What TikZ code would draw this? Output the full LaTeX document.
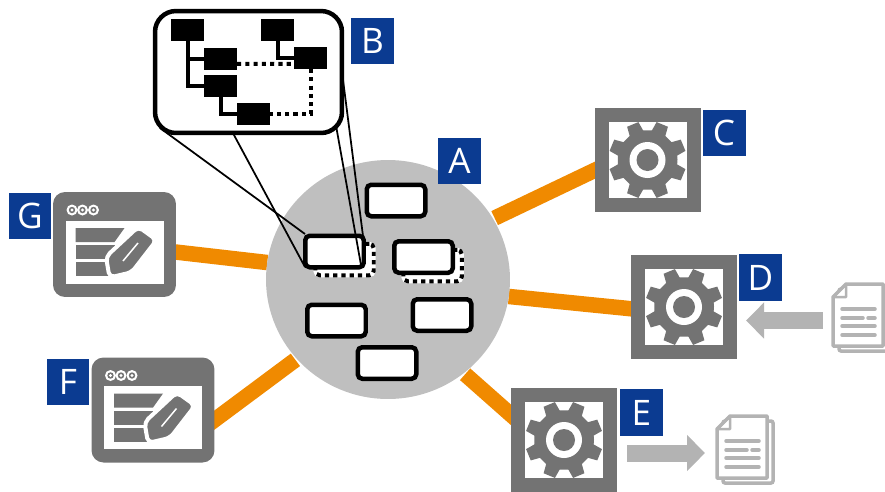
\documentclass[tikz,border=0pt]{standalone}
\usepackage{fontspec}
\setsansfont{Open Sans}
\usepackage{tikz}
\usetikzlibrary{arrows.meta,backgrounds,calc,shapes.geometric}
\definecolor{hubgray}{HTML}{BFBFBF}
\definecolor{icongray}{HTML}{737373}
\definecolor{docgray}{HTML}{B3B3B3}
\definecolor{linkorange}{HTML}{F08A00}
\definecolor{tagblue}{HTML}{0B3B91}
\tikzset{
  tagbox/.style={fill=tagblue,text=white,inner sep=0pt,outer sep=0pt,minimum width=0.86cm,minimum height=0.93cm,font=\sffamily\fontsize{20}{20}\selectfont},
  gearbox/.style={draw=icongray,fill=white,line width=0.28cm,inner sep=0pt,outer sep=0pt,minimum width=1.84cm,minimum height=1.80cm},
  formbox/.style={fill=icongray,rounded corners=0.24cm,inner sep=0pt,outer sep=0pt,minimum width=2.46cm,minimum height=2.10cm},
  smallbox/.style={draw=black,fill=white,line width=0.09cm,rounded corners=0.09cm,inner sep=0pt,outer sep=0pt,minimum width=1.17cm,minimum height=0.63cm},
  shadowbox/.style={draw=black,fill=white,line width=0.08cm,rounded corners=0.09cm,inner sep=0pt,outer sep=0pt,minimum width=1.17cm,minimum height=0.63cm,dash pattern=on 2.4pt off 2.3pt,preaction={draw=white,solid}},
  treebox/.style={fill=black,inner sep=0pt,outer sep=0pt,minimum width=0.66cm,minimum height=0.44cm},
  treeline/.style={line width=0.08cm},
  treedots/.style={line width=0.08cm,dash pattern=on 2.4pt off 2.3pt},
  zoomline/.style={line width=0.035cm},
  link/.style={draw=linkorange,line width=0.31cm,shorten >=-4pt},
  feed/.style={draw=docgray,line width=0.34cm,-{Triangle[length=0.36cm,width=0.70cm]}},
  gearicon/.pic={
    \fill[icongray] (-0.5:30) \foreach \a in {22.5,67.5,...,337.5} {
      -- (\a-14:30) -- (\a-9:39) -- (\a+9:39) -- (\a+14:30) } -- cycle;
    \fill[white] (0,0) circle (18);
    \fill[icongray] (0,0) circle (11);
  },
  formicon/.pic={
    \fill[white] (-49,-24) rectangle (49,39);
    \foreach \x in {-42.5,-32,-21} {
      \fill[white] (\x,-34.5) circle (5.5);
      \fill[icongray] (\x,-34.5) circle (3.2);
      \fill[white] (\x,-34.5) circle (1.6);
    }
    \fill[icongray] (-39,-16.5) -- (10,-16.5) -- (0,-2.5) -- (-39,-2.5) -- cycle;
    \fill[icongray] (-39,0.5) rectangle (0,14.5);
    \fill[icongray] (-39,17.5) rectangle (-5,31.5);
    \draw[white,line width=0.08cm,rounded corners=0.1cm,fill=icongray] (23.8,-17.8) -- (42.2,-4.5) -- (17.2,27.8) -- (-5,33) -- (-8.5,12.2) -- cycle;
    \draw[white,line width=0.03cm] (23.5,-1.5) -- (8.5,16.5);
  },
  docicon/.pic={
    \draw[docgray,line width=0.07cm,rounded corners=0.04cm] (-19,36) rectangle (31,-26);
    \draw[docgray,fill=white,line width=0.07cm,line join=round] (-12,-31) -- (25,-31) -- (25,31) -- (-25,31) -- (-25,-18) -- cycle;
    \draw[docgray,line width=0.05cm,line join=round] (-12,-31) -- (-12,-18) -- (-25,-18) -- cycle;
    \draw[docgray,line width=0.07cm,line cap=round] (-16,-6) -- (17,-6) (-16,3) -- (5,3) (10,3) -- (17,3) (-16,11) -- (17,11) (-16,20) -- (17,20);
  }
}
\begin{document}
\begin{tikzpicture}[x=0.02cm,y=-0.02cm]
\useasboundingbox (0,0) rectangle (885,491);

\node[ellipse,fill=hubgray,inner sep=0pt,outer sep=0pt,minimum width=4.88cm,minimum height=4.78cm] (hub) at (388,279.5) {};

\node[gearbox] (gearC) at (647.5,160) {};
\node[gearbox] (gearD) at (684,307) {};
\node[gearbox] (gearE) at (564,440) {};
\pic at (gearC) {gearicon};
\pic at (gearD) {gearicon};
\pic at (gearE) {gearicon};

\node[formbox] (formG) at (114.5,244.5) {};
\node[formbox] (formF) at (153,410) {};
\pic at (formG) {formicon};
\pic at (formF) {formicon};

\begin{scope}[on background layer]
\draw[link,shorten <=1pt] (hub.30) -- ([yshift=-4pt]gearC.west);
\draw[link] (hub.-8) -- ([yshift=-1.4pt]gearD.west);
\draw[link,shorten <=1pt] (hub.-51) -- ([yshift=10.8pt]gearE.west);
\draw[link,shorten <=1pt] (hub.221) -- ([yshift=-5.7pt]formF.east);
\draw[link] (hub.172) -- ([yshift=-4.3pt]formG.east);
\end{scope}

% boxes in the hub
\node[shadowbox] (shadowtwo) at (344.5,259.5) {};
\node[shadowbox] (shadowthree) at (432.5,265.5) {};
\foreach \n/\x/\y in {one/396/200.5,two/334.5/251.5,three/423.5/257,four/336.5/320.5,five/442/315,six/387/363}
{
\node[smallbox] (box\n) at (\x,\y) {};
}

% lines up to the callout
\coordinate (zoomA) at (160,128);
\coordinate (zoomB) at (228.6,125);
\coordinate (zoomC) at (335,120);
\coordinate (zoomD) at (342,72);
\draw[zoomline] (zoomA) -- (305,234);
\draw[zoomline] (zoomB) -- (305,267);
\draw[zoomline] (zoomC) -- (361,265);
\draw[zoomline] (zoomD) -- (363,236);

\node[draw=black,fill=white,line width=0.09cm,rounded corners=0.42cm,inner sep=0pt,outer sep=0pt,minimum width=3.74cm,minimum height=2.44cm] (callout) at (248.5,72) {};

\node[treebox] (treeA) at (187.5,30) {};
\node[treebox] (treeB) at (220.5,59) {};
\node[treebox] (treeC) at (220.5,86) {};
\node[treebox] (treeD) at (253.5,114) {};
\node[treebox] (treeE) at (277.5,30) {};
\node[treebox] (treeF) at (310.5,58) {};
\draw[treeline] (treeA.south) |- (treeB.west);
\draw[treeline] (treeA.south) |- (treeC.west);
\draw[treeline] (treeC.south) |- (treeD.west);
\draw[treeline] (treeE.south) |- (treeF.west);
\draw[treedots] ([yshift=-2.8pt]treeB.east) -- ([yshift=-3.4pt]treeF.west);
\draw[treedots] (treeF.south) |- (treeD.east);

% documents
\pic at (858,315) {docicon};
\pic at (742,447) {docicon};
\coordinate (docD) at (823,320.5);
\coordinate (docE) at (705,453);
\coordinate (gearDout) at (746,320.5);
\coordinate (gearEout) at (627,453);
\draw[feed] (docD) -- (gearDout);
\draw[feed] (gearEout) -- (docE);

\node[tagbox] (tagA) at (459.5,161) {A};
\node[tagbox] (tagB) at (372.5,41) {B};
\node[tagbox] (tagC) at (724,133) {C};
\node[tagbox] (tagD) at (760.5,277.5) {D};
\node[tagbox] (tagE) at (641.5,412.5) {E};
\node[tagbox] (tagF) at (68,382) {F};
\node[tagbox] (tagG) at (30,216) {G};
\end{tikzpicture}
\end{document}
